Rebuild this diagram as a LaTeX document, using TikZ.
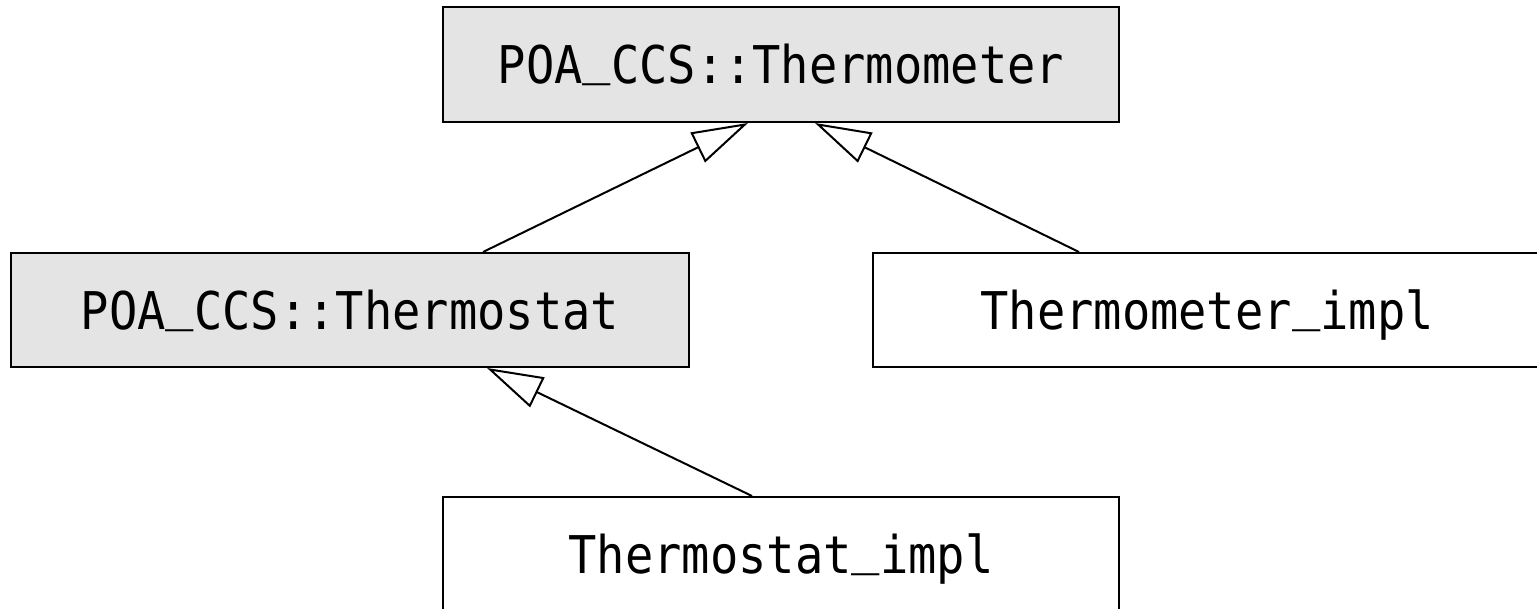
\documentclass[tikz,border=0pt]{standalone}
\usepackage{fontspec}
\setmonofont[FakeStretch=0.905]{DejaVu Sans Mono}
\usetikzlibrary{arrows.meta}
\definecolor{boxgray}{HTML}{E4E4E4}
\newcommand{\usc}{\raisebox{5pt}{\_}}
\tikzset{
  classbox/.style={draw=black, line width=1pt, inner sep=0pt, rectangle,
    font=\ttfamily\fontsize{26}{30}\selectfont, text height=19pt, text depth=0pt},
  ifacebox/.style={classbox, fill=boxgray},
  implbox/.style={classbox, fill=white},
  inherit/.style={draw=black, line width=1pt,
    -{Triangle[open, length=28pt, width=16.5pt, line width=1pt]}}
}
\begin{document}
\begin{tikzpicture}[x=0.5pt, y=-0.5pt]
\useasboundingbox (0,0) rectangle (1537,609);
\clip (0,0) rectangle (1537,609);
\node[ifacebox, minimum width=338pt, minimum height=57.5pt] (top) at (781,64.5) {POA\usc CCS::Thermometer};
\node[ifacebox, minimum width=339pt, minimum height=57pt] (left) at (350,310) {POA\usc CCS::Thermostat};
\node[implbox, minimum width=334pt, minimum height=57pt] (right) at (1207,310) {Thermometer\usc impl};
\node[implbox, minimum width=338pt, minimum height=57pt] (bottom) at (781,554) {Thermostat\usc impl};
\draw[inherit] ([xshift=66.5pt]left.north) -- ([xshift=-16.5pt]top.south);
\draw[inherit] ([xshift=-64pt]right.north) -- ([xshift=17pt]top.south);
\draw[inherit] ([xshift=-14.5pt]bottom.north) -- ([xshift=68.5pt]left.south);
\end{tikzpicture}
\end{document}
